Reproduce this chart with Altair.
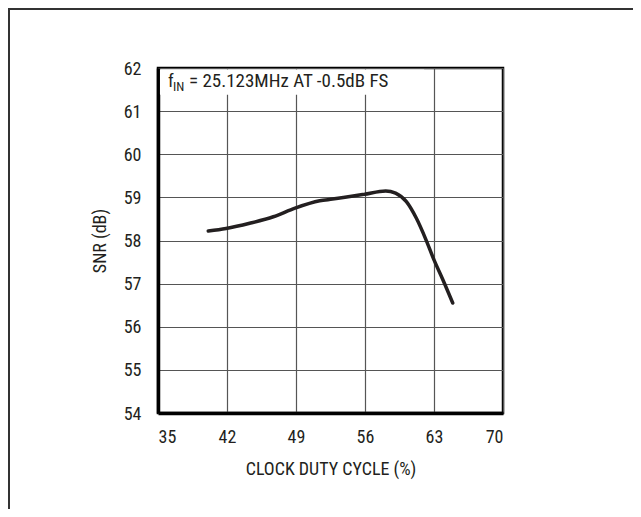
import altair as alt
import pandas as pd

# Curve data
duty = [40.1, 41.9, 44.3, 46.7, 48.9, 51.4, 52.7, 55.9, 58.1, 59.1, 60.2, 61.2, 62.2, 63.0, 63.9, 64.9]
snr = [58.22, 58.28, 58.40, 58.55, 58.75, 58.92, 58.96, 59.07, 59.15, 59.10, 58.90, 58.52, 58.01, 57.55, 57.09, 56.55]

x_ticks = [35, 42, 49, 56, 63, 70]
y_ticks = [54, 55, 56, 57, 58, 59, 60, 61, 62]

FONT = "Liberation Sans Narrow, Roboto Condensed, Arial Narrow, sans-serif"
INK = "#231f20"

df = pd.DataFrame({"duty": duty, "snr": snr})

xs = alt.Scale(domain=[35, 70], nice=False, zero=False)
ys = alt.Scale(domain=[54, 62], nice=False, zero=False)

line = alt.Chart(df).mark_line(
    color=INK, strokeWidth=3.5, interpolate="monotone", strokeCap="round"
).encode(
    x=alt.X("duty:Q", scale=xs, title="CLOCK DUTY CYCLE (%)",
            axis=alt.Axis(values=x_ticks, grid=True, gridColor="#555555", gridWidth=1.2,
                          gridOpacity=1, ticks=False, domainColor="black", domainWidth=3.5,
                          labelFontSize=18, labelPadding=15, labelColor=INK, labelFont=FONT,
                          titleFont=FONT, titleFontSize=18, titleFontWeight="normal",
                          titleColor=INK, titlePadding=14)),
    y=alt.Y("snr:Q", scale=ys, title="SNR (dB)",
            axis=alt.Axis(values=y_ticks, grid=True, gridColor="#555555", gridWidth=1.2,
                          gridOpacity=1, ticks=False, domainColor="black", domainWidth=3.5,
                          labelFontSize=18, labelPadding=17, labelColor=INK, labelFont=FONT,
                          labelBaseline="top", labelOffset=-8,
                          titleFont=FONT, titleFontSize=18, titleFontWeight="normal",
                          titleColor=INK, titlePadding=14)),
)

ann_df = pd.DataFrame({"duty": [35.0], "snr": [62.0]})
# white backing behind the annotation (gridlines stop under it)
box_df = pd.DataFrame({"x1": [35.2], "x2": [62.0], "y1": [61.965], "y2": [61.38]})
ann_box = alt.Chart(box_df).mark_rect(color="white").encode(
    x=alt.X("x1:Q", scale=xs), x2="x2:Q", y=alt.Y("y1:Q", scale=ys), y2="y2:Q")

ann_f = alt.Chart(ann_df).mark_text(
    text="f", align="left", baseline="alphabetic", dx=10, dy=19,
    font=FONT, fontSize=18, color=INK
).encode(x=alt.X("duty:Q", scale=xs), y=alt.Y("snr:Q", scale=ys))
ann_in = alt.Chart(ann_df).mark_text(
    text="IN", align="left", baseline="alphabetic", dx=15, dy=23,
    font=FONT, fontSize=13, color=INK
).encode(x=alt.X("duty:Q", scale=xs), y=alt.Y("snr:Q", scale=ys))
ann_rest = alt.Chart(ann_df).mark_text(
    text="= 25.123MHz AT -0.5dB FS", align="left", baseline="alphabetic", dx=31, dy=19,
    font=FONT, fontSize=19, color=INK
).encode(x=alt.X("duty:Q", scale=xs), y=alt.Y("snr:Q", scale=ys))

# Outer frame lines (left and top)
frame_left = alt.Chart(ann_df).mark_rule(color="#333333", strokeWidth=2).encode(
    x=alt.value(-149), y=alt.value(-59), y2=alt.value(460))
frame_top = alt.Chart(ann_df).mark_rule(color="#333333", strokeWidth=2).encode(
    x=alt.value(-150), x2=alt.value(490), y=alt.value(-59))

chart = alt.layer(line, ann_box, ann_f, ann_in, ann_rest, frame_left, frame_top).properties(
    width=345, height=345,
    autosize=alt.AutoSizeParams(type="none"),
    padding={"left": 150, "top": 60, "right": 130, "bottom": 96},
    background="white",
).configure_view(stroke="black", strokeWidth=2.5)

chart.save("out.html", embed_options={"renderer": "svg", "actions": False})
